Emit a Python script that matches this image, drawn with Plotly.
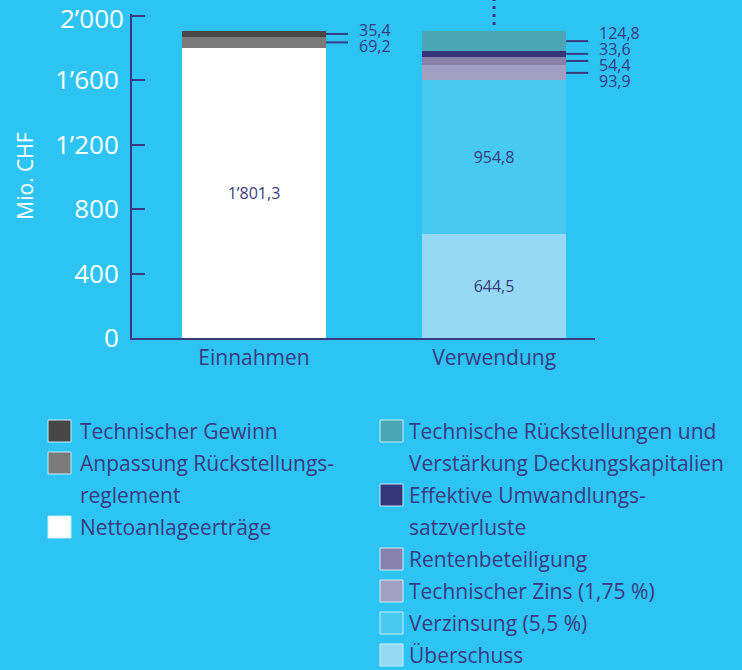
import plotly.graph_objects as go

# ---------------- data ----------------
categories = ["Einnahmen", "Verwendung"]

einnahmen_names = ["Nettoanlageerträge", "Anpassung Rückstellungsreglement", "Technischer Gewinn"]
einnahmen_values = [1801.3, 69.2, 35.4]
einnahmen_colors = ["#ffffff", "#7a7a7a", "#474747"]

verwendung_names = ["Überschuss", "Verzinsung (5,5 %)", "Technischer Zins (1,75 %)",
                    "Rentenbeteiligung", "Effektive Umwandlungssatzverluste",
                    "Technische Rückstellungen und Verstärkung Deckungskapitalien"]
verwendung_values = [644.5, 954.8, 93.9, 54.4, 33.6, 124.8]
verwendung_colors = ["#96d9f5", "#48c9f2", "#a39fc2", "#8680ab", "#35357a", "#4aa6b5"]

y_tickvals = [0, 400, 800, 1200, 1600, 2000]
y_ticktext = ["0", "400", "800", "1’200", "1’600", "2’000"]
y_title = "Mio. CHF"

legend_left = [  # (color, lines)
    ("#474747", ["Technischer Gewinn"]),
    ("#7a7a7a", ["Anpassung Rückstellungs-", "reglement"]),
    ("#ffffff", ["Nettoanlageerträge"]),
]
legend_right = [
    ("#4aa6b5", ["Technische Rückstellungen und", "Verstärkung Deckungskapitalien"]),
    ("#35357a", ["Effektive Umwandlungs-", "satzverluste"]),
    ("#8680ab", ["Rentenbeteiligung"]),
    ("#a39fc2", ["Technischer Zins (1,75 %)"]),
    ("#48c9f2", ["Verzinsung (5,5 %)"]),
    ("#96d9f5", ["Überschuss"]),
]

# ---------------- styling ----------------
BG = "#2dc4f3"
NAVY = "#3a3a80"
FONT = "Open Sans"
W, H = 742, 670
ML, MR, MT, MB = 132, 147, 14, 332
PW, PH = W - ML - MR, H - MT - MB
X_RANGE = [-0.508, 1.42]
Y_RANGE = [0, 2012]
BAR_W = 0.6
INSIDE_MIN = 300
TICK_FONT = dict(size=26, color="white", family=FONT)
TICK_STANDOFF = 6


def fmt(v):
    s = f"{v:,.1f}"
    return s.replace(",", "’").replace(".", ",")


def px_x(px):
    return (px - ML) / PW


def px_y(py):
    return (H - MB - py) / PH


def data_x(xv):
    return (xv - X_RANGE[0]) / (X_RANGE[1] - X_RANGE[0])


fig = go.Figure()


def add_stack(ci, names, values, colors):
    for n, v, c in zip(names, values, colors):
        fig.add_trace(go.Bar(
            x=[ci], y=[v], name=n, marker=dict(color=c, line=dict(width=0)),
            width=BAR_W, showlegend=False,
            text=[fmt(v) if v > INSIDE_MIN else ""],
            textposition="inside", insidetextanchor="middle",
            textfont=dict(color=NAVY, size=16, family=FONT),
            hovertemplate=n + ": %{y}<extra></extra>",
        ))


add_stack(0, einnahmen_names, einnahmen_values, einnahmen_colors)
add_stack(1, verwendung_names, verwendung_values, verwendung_colors)

shapes = []
annotations = []
units_per_px = (Y_RANGE[1] - Y_RANGE[0]) / PH
x_units_per_px = (X_RANGE[1] - X_RANGE[0]) / PW


def outside_labels(ci, values):
    cum = 0
    centers = []
    for v in values:
        if v <= INSIDE_MIN:
            centers.append((cum + v / 2, v))
        cum += v
    centers = centers[::-1]  # top first
    n = len(centers)
    mean = sum(c for c, _ in centers) / n
    spacing = 16 * units_per_px
    edge = ci + BAR_W / 2
    for i, (c, v) in enumerate(centers):
        shapes.append(dict(type="line", xref="x", yref="y", x0=edge, x1=edge + 22 * x_units_per_px,
                           y0=c, y1=c, line=dict(color=NAVY, width=2)))
        target = mean - (i - (n - 1) / 2) * spacing
        annotations.append(dict(x=data_x(edge + 31 * x_units_per_px), y=target / Y_RANGE[1],
                                xref="paper", yref="paper",
                                text=fmt(v), showarrow=False, xanchor="left", yanchor="middle",
                                font=dict(color=NAVY, size=16, family=FONT)))
    return cum


outside_labels(0, einnahmen_values)
top_v = outside_labels(1, verwendung_values)

# dotted line above Verwendung
xd = data_x(1)
shapes.append(dict(type="line", xref="paper", yref="paper", x0=xd, x1=xd,
                   y0=top_v / Y_RANGE[1] + 6 / PH, y1=px_y(-4),
                   line=dict(color=NAVY, width=3, dash="3px,5px")))

# the topmost tick label would be dropped at the paper edge -> draw it as text
axis_ticktext = y_ticktext[:-1] + [""]
annotations.append(dict(x=0, y=y_tickvals[-1], xref="paper", yref="y", text=y_ticktext[-1],
                        showarrow=False, xanchor="right", yanchor="middle",
                        xshift=-TICK_STANDOFF, yshift=-2, font=TICK_FONT))


# manual legend
def legend_column(items, sw_x, txt_x, y_start):
    y = y_start
    for color, lines in items:
        shapes.append(dict(type="rect", xref="paper", yref="paper",
                           x0=px_x(sw_x), x1=px_x(sw_x + 23), y0=px_y(y - 11), y1=px_y(y + 11),
                           fillcolor=color, line=dict(color="#c9eefb", width=1)))
        for ln in lines:
            annotations.append(dict(x=px_x(txt_x), y=px_y(y), xref="paper", yref="paper",
                                    text=ln, showarrow=False, xanchor="left", yanchor="middle",
                                    font=dict(color=NAVY, size=21, family=FONT)))
            y += 32


legend_column(legend_left, 48, 78, 431)
legend_column(legend_right, 380, 407, 431)

fig.update_layout(
    width=W, height=H, margin=dict(l=ML, r=MR, t=MT, b=MB, pad=0, autoexpand=False),
    paper_bgcolor=BG, plot_bgcolor=BG, barmode="stack", bargap=0,
    font=dict(family=FONT, color=NAVY),
    shapes=shapes, annotations=annotations, showlegend=False,
    xaxis=dict(range=X_RANGE, tickvals=[0, 1], ticktext=categories, showgrid=False,
               zeroline=False, showline=True, linecolor=NAVY, linewidth=2, ticks="",
               tickfont=dict(size=21, color=NAVY, family=FONT), fixedrange=True, automargin=False),
    yaxis=dict(range=Y_RANGE, tickvals=y_tickvals, ticktext=axis_ticktext, showgrid=False,
               zeroline=False, showline=True, linecolor=NAVY, linewidth=2,
               ticks="inside", ticklen=13, tickwidth=2, tickcolor=NAVY,
               ticklabelstandoff=TICK_STANDOFF, tickfont=TICK_FONT,
               title=dict(text=y_title, font=dict(size=21, color="white", family=FONT), standoff=16),
               fixedrange=True, automargin=False),
)

fig.write_html("out.html", config={"displayModeBar": False},
               post_script="document.body.style.margin='0';")
